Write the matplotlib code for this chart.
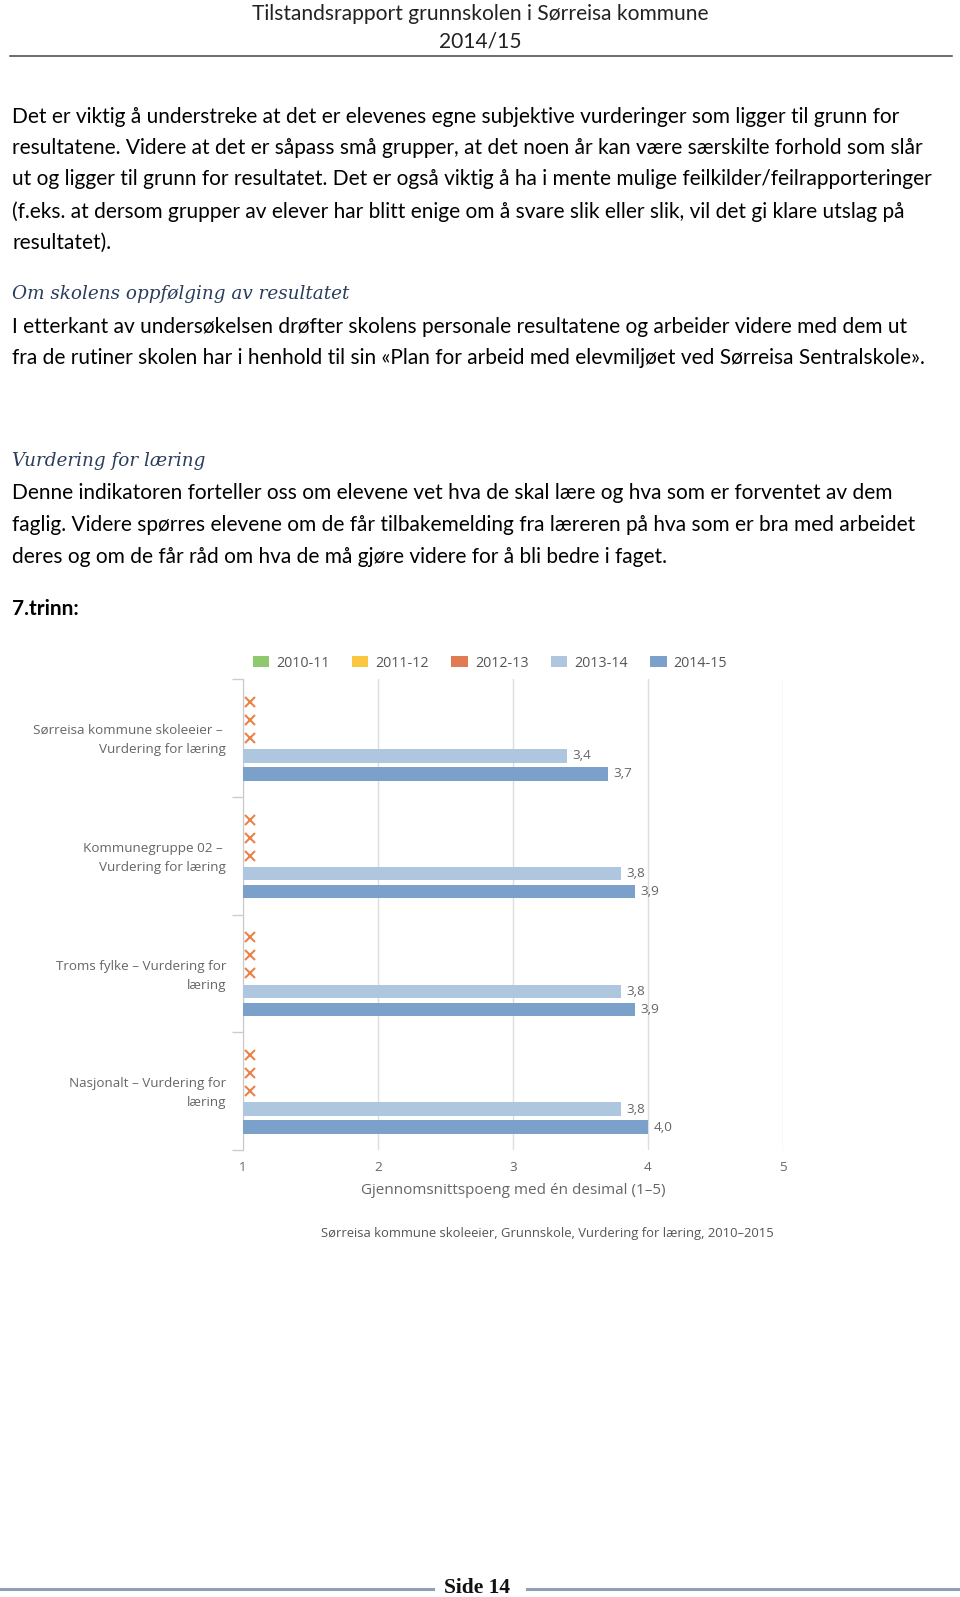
import matplotlib
matplotlib.use('Agg')
import matplotlib.pyplot as plt
from matplotlib.patches import Patch
from matplotlib.lines import Line2D
from matplotlib.transforms import ScaledTranslation
import numpy as np

W, H, DPI = 960, 1597, 100

# ---------------- data ----------------
categories = ["Sørreisa kommune skoleeier – \nVurdering for læring",
              "Kommunegruppe 02 – \nVurdering for læring",
              "Troms fylke – Vurdering for\nlæring",
              "Nasjonalt – Vurdering for\nlæring"]
series_names = ["2010-11", "2011-12", "2012-13", "2013-14", "2014-15"]
values_2010_11 = [np.nan, np.nan, np.nan, np.nan]
values_2011_12 = [np.nan, np.nan, np.nan, np.nan]
values_2012_13 = [np.nan, np.nan, np.nan, np.nan]
values_2013_14 = [3.4, 3.8, 3.8, 3.8]
values_2014_15 = [3.7, 3.9, 3.9, 4.0]
x_ticks = [1, 2, 3, 4, 5]
series_colors = ["#8FC86F", "#FBC640", "#E07B52", "#AFC7DE", "#7BA0C9"]
missing_color = "#E8844A"

body1 = ["Det er viktig å understreke at det er elevenes egne subjektive vurderinger som ligger til grunn for",
         "resultatene. Videre at det er såpass små grupper, at det noen år kan være særskilte forhold som slår",
         "ut og ligger til grunn for resultatet. Det er også viktig å ha i mente mulige feilkilder/feilrapporteringer",
         "(f.eks. at dersom grupper av elever har blitt enige om å svare slik eller slik, vil det gi klare utslag på",
         "resultatet)."]
heading2 = "Om skolens oppfølging av resultatet"
body2 = ["I etterkant av undersøkelsen drøfter skolens personale resultatene og arbeider videre med dem ut",
         "fra de rutiner skolen har i henhold til sin «Plan for arbeid med elevmiljøet ved Sørreisa Sentralskole»."]
heading3 = "Vurdering for læring"
body3 = ["Denne indikatoren forteller oss om elevene vet hva de skal lære og hva som er forventet av dem",
         "faglig. Videre spørres elevene om de får tilbakemelding fra læreren på hva som er bra med arbeidet",
         "deres og om de får råd om hva de må gjøre videre for å bli bedre i faget."]

def fx(x):
    return x / W

def fy(y):
    return 1 - y / H

fig = plt.figure(figsize=(W / DPI, H / DPI), dpi=DPI)
fig.patch.set_facecolor('white')

BODY = dict(family=['Lato', 'DejaVu Sans'], fontsize=15.05, color='black', va='center', ha='left')
HEAD = dict(family=['DejaVu Serif'], style='italic', fontsize=13.25, color='#2B3D5C',
            va='center', ha='left')
CH = ['Open Sans', 'DejaVu Sans']

# header
fig.text(fx(480), fy(14), "Tilstandsrapport grunnskolen i Sørreisa kommune", family=['Lato', 'DejaVu Sans'],
         fontsize=15.1, ha='center', va='center', color='#222222')
fig.text(fx(480), fy(42), "2014/15", family=['Lato', 'DejaVu Sans'], fontsize=15.1, ha='center', va='center',
         color='#222222')
fig.add_artist(Line2D([fx(10), fx(952)], [fy(56), fy(56)], transform=fig.transFigure, color='#444444', lw=1.1))

for y, s in zip([117, 148, 179, 212, 243], body1):
    fig.text(fx(12), fy(y), s, **BODY)
fig.text(fx(12), fy(294), heading2, **HEAD)
for y, s in zip([327, 358], body2):
    fig.text(fx(12), fy(y), s, **BODY)
fig.text(fx(12), fy(461), heading3, **HEAD)
for y, s in zip([493, 525, 557], body3):
    fig.text(fx(12), fy(y), s, **BODY)
fig.text(fx(12), fy(609), "7.trinn:", **{**BODY, 'fontweight': 'bold'})

# footer
fig.add_artist(Line2D([fx(0), fx(433)], [fy(1589), fy(1589)], transform=fig.transFigure, color='#8E9FB6', lw=2.2))
fig.add_artist(Line2D([fx(527), fx(960)], [fy(1589), fy(1589)], transform=fig.transFigure, color='#8E9FB6', lw=2.2))
fig.text(fx(477), fy(1588), "Side 14", family=['Liberation Serif', 'DejaVu Serif'], fontweight='bold',
         fontsize=15.5, ha='center', va='center', color='#111111')

# ---------------- chart ----------------
ax = fig.add_axes([fx(243), fy(1150), (783 - 243) / W, (1150 - 679) / H])
ypos = np.arange(len(categories))
step = 0.1525
offsets = (np.arange(5) - 2) * step
bar_h = 0.114

all_series = [values_2010_11, values_2011_12, values_2012_13, values_2013_14, values_2014_15]
shift = ScaledTranslation(7 / DPI, 0, fig.dpi_scale_trans)
for k, vals in enumerate(all_series):
    vals = np.array(vals, dtype=float)
    present = ~np.isnan(vals)
    if present.any():
        bars = ax.barh(ypos[present] + offsets[k], vals[present], left=0, height=bar_h,
                       color=series_colors[k], zorder=3)
        ax.bar_label(bars, labels=[f"{v:.1f}".replace('.', ',') for v in vals[present]],
                     padding=4, color='#666666', family=CH, fontsize=9.7)
    if (~present).any():
        ax.plot(np.full((~present).sum(), x_ticks[0]), ypos[~present] + offsets[k], linestyle='none',
                marker='x', markersize=7.5, markeredgewidth=1.5, color=missing_color,
                transform=ax.transData + shift, clip_on=False, zorder=4)

ax.set_xlim(x_ticks[0], x_ticks[-1])
ax.set_ylim(len(categories) - 0.5, -0.5)
for sp in ['top', 'right', 'bottom']:
    ax.spines[sp].set_visible(False)
ax.spines['left'].set_color('#C8C8C8')
ax.set_xticks(x_ticks)
ax.set_xticklabels([str(t) for t in x_ticks], family=CH, fontsize=9.7, color='#666666')
ax.xaxis.grid(True, color='#DDDDDD', lw=1, zorder=0)
ax.tick_params(axis='x', length=0, pad=8)

ax.set_yticks(np.arange(len(categories) + 1) - 0.5)
ax.set_yticklabels([])
ax.tick_params(axis='y', which='major', length=8, color='#CCCCCC', width=1)
ax.set_yticks(ypos - 0.02, categories, minor=True)
ax.tick_params(axis='y', which='minor', length=0, pad=12)
for lab in ax.get_yticklabels(minor=True):
    lab.set_family(CH)
    lab.set_fontsize(9.7)
    lab.set_color('#666666')
    lab.set_linespacing(1.6)

ax.set_xlabel("Gjennomsnittspoeng med én desimal (1–5)", family=CH, fontsize=11, color='#666666')
ax.xaxis.label.set_va('center')
ax.xaxis.set_label_coords(0.5, -(1190 - 1150) / (1150 - 679))

handles = [Patch(facecolor=c, edgecolor='none') for c in series_colors]
leg = fig.legend(handles, series_names, ncol=5, loc='center', bbox_to_anchor=(fx(490), fy(663)),
                 frameon=False, prop={'family': CH, 'size': 10.3}, labelcolor='#555555',
                 handlelength=1.15, handleheight=0.85, handletextpad=0.5, columnspacing=1.55)

fig.text(fx(547), fy(1234), "Sørreisa kommune skoleeier, Grunnskole, Vurdering for læring, 2010–2015",
         family=CH, fontsize=9.4, color='#555555', ha='center', va='center')

fig.savefig('out.png', dpi=DPI, facecolor='white')
